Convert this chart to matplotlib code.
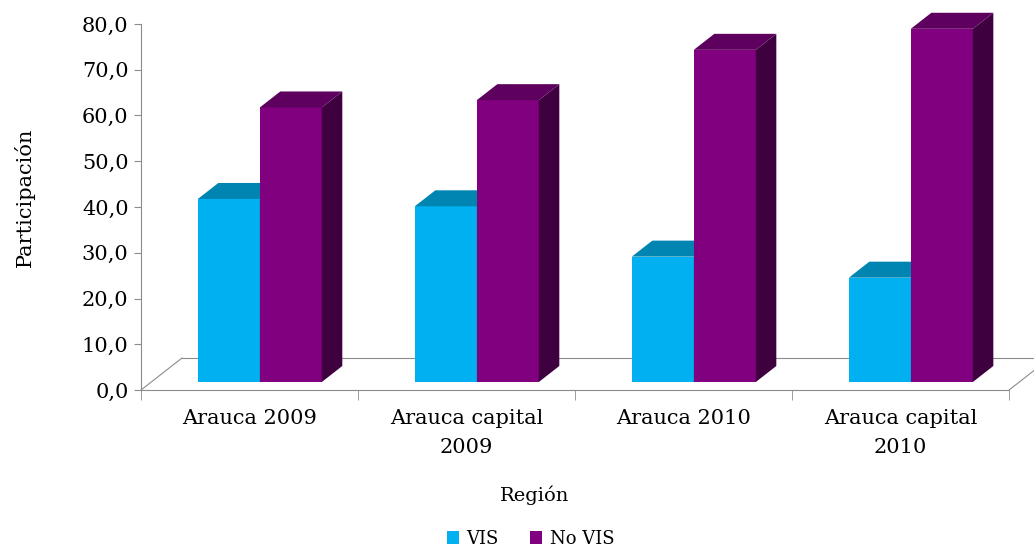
import matplotlib.pyplot as plt
from matplotlib.patches import Polygon
import numpy as np

categorias = ["Arauca 2009", "Arauca capital\n2009", "Arauca 2010", "Arauca capital\n2010"]
vis = [40.0, 38.4, 27.4, 22.8]
no_vis = [60.0, 61.6, 72.6, 77.2]

plt.rcParams['font.family'] = ['DejaVu Serif']

# colores: frente, techo, lado
col_vis = ('#00B0F0', '#0085B2', '#00739A')
col_novis = ('#800080', '#5E005E', '#3F003F')

fig = plt.figure(figsize=(10.34, 5.49), dpi=100)
ax = fig.add_axes([0.1364, 0.2896, 0.8395, 0.6667])

# profundidad del "piso" 3D en unidades de datos
dx = 0.189
dy = 7.0
w = 0.2857
x = np.arange(len(categorias)) + 0.5

def bar3d(xs, vals, colors):
    bars = ax.bar(xs, vals, width=w, bottom=dy / 4, color=colors[0],
                  linewidth=0, clip_on=False, zorder=3)
    for b in bars:
        x0 = b.get_x()
        x1 = x0 + b.get_width()
        y0 = b.get_y()
        y1 = y0 + b.get_height()
        top = Polygon([(x0, y1), (x1, y1), (x1 + dx / 2, y1 + dy / 2), (x0 + dx / 2, y1 + dy / 2)],
                      closed=True, facecolor=colors[1], edgecolor='none', clip_on=False, zorder=3)
        side = Polygon([(x1, y0), (x1 + dx / 2, y0 + dy / 2), (x1 + dx / 2, y1 + dy / 2), (x1, y1)],
                       closed=True, facecolor=colors[2], edgecolor='none', clip_on=False, zorder=3)
        ax.add_patch(side)
        ax.add_patch(top)
    return bars

shift = dx / 4
b1 = None
b2 = None
for i in range(len(categorias)):
    r1 = bar3d([x[i] - w / 2 + shift], [vis[i]], col_vis)
    r2 = bar3d([x[i] + w / 2 + shift], [no_vis[i]], col_novis)
    if b1 is None:
        b1, b2 = r1, r2

ax.set_xlim(0, 4)
ax.set_ylim(0, 80)

# piso
gris = '#8C8C8C'
n = len(categorias)
ax.plot([0, dx], [0, dy], color=gris, lw=0.8, clip_on=False, zorder=1)
ax.plot([dx, n + dx], [dy, dy], color=gris, lw=0.8, clip_on=False, zorder=1)
ax.plot([n, n + dx], [0, dy], color=gris, lw=0.8, clip_on=False, zorder=1)

for s in ['top', 'right']:
    ax.spines[s].set_visible(False)
for s in ['left', 'bottom']:
    ax.spines[s].set_color(gris)
    ax.spines[s].set_linewidth(0.8)

ax.set_yticks(np.arange(0, 81, 10))
ax.set_yticklabels([f"{v:.1f}".replace('.', ',') for v in np.arange(0, 81, 10)])
ax.tick_params(axis='y', length=5, color=gris, labelsize=15, pad=4)

ax.set_xticks(x)
ax.set_xticklabels(categorias, fontsize=15, linespacing=1.65)
ax.set_xticks(np.arange(0, n + 1), minor=True)
ax.tick_params(axis='x', which='major', length=0, pad=14)
ax.tick_params(axis='x', which='minor', length=7, color=gris)

fig.text(0.024, 0.64, 'Participación', rotation=90, fontsize=15, ha='center', va='center')
fig.text(0.517, 0.098, 'Región', fontsize=14, ha='center', va='center')

fig.legend([b1, b2], ['VIS', 'No VIS'], loc='lower center', bbox_to_anchor=(0.513, -0.028),
           ncol=2, frameon=False, fontsize=13, handlelength=0.7, handleheight=0.7,
           handletextpad=0.4, columnspacing=1.7)

fig.savefig('out.png', dpi=100)
